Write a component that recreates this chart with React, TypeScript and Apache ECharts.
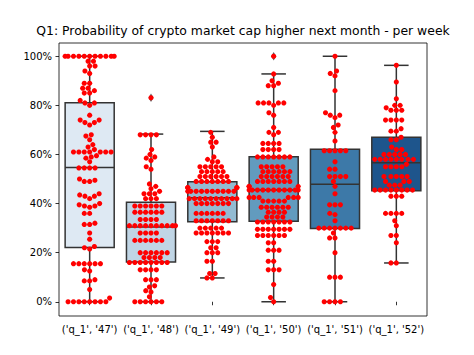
import React, { useEffect, useRef } from 'react';
import * as echarts from 'echarts';

const titleText = 'Q1: Probability of crypto market cap higher next month - per week';
const categories = ["('q_1', '47')", "('q_1', '48')", "('q_1', '49')", "('q_1', '50')", "('q_1', '51')", "('q_1', '52')"];

const week47 = [
  1.0, 1.0, 1.0, 1.0, 1.0, 1.0, 1.0, 1.0, 1.0, 1.0, 1.0,
  0.98, 0.98, 0.96, 0.96, 0.94, 0.93,
  0.89, 0.89, 0.87, 0.87, 0.86, 0.85, 0.85,
  0.82, 0.81, 0.81, 0.8,
  0.76,
  0.74, 0.74, 0.73, 0.73, 0.72,
  0.68, 0.675, 0.66,
  0.64, 0.63, 0.62,
  0.61, 0.61, 0.61, 0.61, 0.61, 0.61, 0.61,
  0.595, 0.59, 0.585,
  0.57,
  0.545, 0.545, 0.545, 0.545,
  0.5, 0.495, 0.49, 0.49,
  0.44, 0.435, 0.43, 0.43, 0.42,
  0.4, 0.395, 0.39, 0.39, 0.385,
  0.36, 0.36,
  0.32, 0.315, 0.315,
  0.28, 0.255,
  0.225, 0.22, 0.215,
  0.155, 0.155, 0.155, 0.155, 0.155, 0.155,
  0.13, 0.125,
  0.09, 0.085, 0.085,
  0.05, 0.015,
  0, 0, 0, 0, 0, 0, 0, 0,
];
const week48 = [
  0.831,
  0.68, 0.68, 0.68, 0.68,
  0.62,
  0.6, 0.59, 0.585, 0.575,
  0.55, 0.54,
  0.48, 0.47, 0.46, 0.45,
  0.44, 0.44, 0.44, 0.42, 0.42, 0.42,
  0.39, 0.39, 0.39, 0.39, 0.39, 0.39,
  0.365, 0.365, 0.365, 0.365, 0.365, 0.365,
  0.335, 0.335, 0.335, 0.335,
  0.31, 0.31, 0.31, 0.31, 0.31, 0.31, 0.31, 0.31, 0.31, 0.31,
  0.28, 0.28, 0.28, 0.28,
  0.25, 0.25, 0.25, 0.25, 0.25, 0.25,
  0.2, 0.2, 0.2, 0.2, 0.2, 0.2,
  0.18, 0.18, 0.18, 0.18,
  0.16, 0.16, 0.16, 0.16, 0.16, 0.16, 0.16, 0.16,
  0.13, 0.13, 0.13, 0.13,
  0.09, 0.09, 0.09,
  0.065, 0.06, 0.045, 0.04,
  0.02,
  0, 0, 0, 0, 0, 0,
];
const week49 = [
  0.69, 0.67, 0.65, 0.65, 0.63,
  0.59, 0.58, 0.57, 0.57,
  0.55, 0.55, 0.55, 0.55, 0.55,
  0.53, 0.53, 0.53, 0.53, 0.53,
  0.51, 0.51, 0.51, 0.51, 0.51, 0.51,
  0.49, 0.49, 0.49, 0.49, 0.49, 0.49, 0.49,
  0.465, 0.465, 0.465, 0.465, 0.465, 0.465,
  0.45, 0.45, 0.45, 0.45, 0.45, 0.45, 0.45, 0.45, 0.45, 0.45,
  0.42, 0.42, 0.42, 0.42, 0.42, 0.42, 0.42, 0.42, 0.42, 0.42,
  0.4, 0.4, 0.4, 0.4, 0.4, 0.4, 0.4,
  0.36, 0.36, 0.36, 0.36, 0.36, 0.36,
  0.33, 0.33, 0.33, 0.33, 0.33, 0.33, 0.33,
  0.3, 0.3, 0.3, 0.3, 0.3,
  0.28, 0.28, 0.28, 0.28, 0.28, 0.28, 0.28,
  0.245, 0.245, 0.245,
  0.22, 0.22,
  0.2, 0.2, 0.2,
  0.165, 0.165,
  0.115, 0.115,
  0.097, 0.097,
];
const week50 = [
  1.0,
  0.928,
  0.9, 0.89, 0.88, 0.88,
  0.81, 0.81, 0.81, 0.81, 0.81, 0.8,
  0.77, 0.76,
  0.71, 0.69, 0.69, 0.68,
  0.645, 0.645, 0.645, 0.645,
  0.62, 0.62, 0.62, 0.62,
  0.59, 0.59, 0.59, 0.59, 0.59, 0.59, 0.59,
  0.55, 0.55, 0.55, 0.55, 0.55,
  0.53, 0.53, 0.53, 0.53, 0.53, 0.53,
  0.51, 0.51, 0.51, 0.51, 0.51, 0.51,
  0.49, 0.49, 0.49, 0.49, 0.49, 0.49, 0.49,
  0.47, 0.47, 0.47,
  0.455, 0.455, 0.455, 0.455, 0.455, 0.455, 0.455, 0.455, 0.455, 0.455, 0.455,
  0.425, 0.425, 0.425, 0.425, 0.425, 0.425,
  0.41, 0.41, 0.41, 0.41, 0.41,
  0.385, 0.385, 0.385, 0.385, 0.385, 0.385,
  0.365, 0.365, 0.365, 0.365,
  0.345, 0.345, 0.345, 0.345,
  0.325, 0.325, 0.325, 0.325, 0.325, 0.325, 0.325,
  0.295, 0.295, 0.295, 0.295, 0.295, 0.295, 0.295,
  0.27, 0.27, 0.27, 0.27, 0.27, 0.27,
  0.24, 0.24,
  0.21, 0.21, 0.21,
  0.165, 0.165,
  0.13, 0.13, 0.13,
  0.07, 0.017, 0,
];
const week51 = [
  1.0,
  0.94, 0.93, 0.92,
  0.86,
  0.77, 0.76, 0.76, 0.75,
  0.72, 0.71, 0.69,
  0.655,
  0.615, 0.615, 0.615, 0.615, 0.615,
  0.57,
  0.54, 0.54,
  0.51, 0.51, 0.51, 0.51,
  0.49, 0.47,
  0.44,
  0.395, 0.395, 0.395,
  0.36, 0.355,
  0.33,
  0.3, 0.3, 0.3, 0.3, 0.3, 0.3, 0.3,
  0.28,
  0.26, 0.26,
  0.2,
  0.1, 0.1, 0.1,
  0, 0, 0, 0,
];
const week52 = [
  0.963, 0.895, 0.827,
  0.8, 0.8, 0.79,
  0.78, 0.78, 0.78,
  0.74, 0.74, 0.74, 0.74,
  0.705, 0.695, 0.695,
  0.67, 0.66, 0.66,
  0.63, 0.62, 0.62,
  0.6, 0.6, 0.6, 0.6, 0.6,
  0.58, 0.58, 0.58, 0.58, 0.58, 0.58, 0.58, 0.58, 0.56,
  0.55, 0.55, 0.55, 0.55,
  0.51, 0.51, 0.51, 0.51, 0.51,
  0.49, 0.49, 0.49,
  0.475, 0.475, 0.475,
  0.455, 0.455, 0.455, 0.455, 0.455, 0.455, 0.455, 0.455,
  0.43, 0.43, 0.43,
  0.36, 0.36, 0.36, 0.36,
  0.33, 0.31,
  0.27, 0.27,
  0.24,
  0.158, 0.158,
];
const weekPoints = [week47, week48, week49, week50, week51, week52];

const whiskerLow = [0, 0, 0.097, 0, 0, 0.158];
const quartile1 = [0.221, 0.162, 0.326, 0.328, 0.298, 0.452];
const medians = [0.547, 0.305, 0.424, 0.455, 0.479, 0.566];
const quartile3 = [0.811, 0.405, 0.489, 0.591, 0.621, 0.67];
const whiskerHigh = [1.0, 0.683, 0.694, 0.928, 1.0, 0.963];
const outlierCategory = [1, 3];
const outlierValues = [0.831, 1.0];
const yTicks = [0, 0.2, 0.4, 0.6, 0.8, 1.0];

const boxColors = ['#dee9f3', '#c0d5e5', '#93bbd2', '#629bbe', '#3d79a8', '#1e558c'];
const edgeColor = '#333333';
const FONT = 'DejaVu Sans';

function beeswarm(ys: number[], cx: number, r: number, half: number): number[] {
  const order = ys.map((_, i) => i).sort((a, b) => ys[b] - ys[a]);
  const placed: { x: number; y: number }[] = [];
  const xs: number[] = new Array(ys.length).fill(cx);
  const sep2 = 4 * r * r;
  for (const idx of order) {
    const y = ys[idx];
    const neighbors = placed.filter((p) => Math.abs(p.y - y) < 2 * r);
    const cands: number[] = [cx];
    let leftFirst = true;
    for (const n of neighbors) {
      const dy = y - n.y;
      const dx = Math.sqrt(Math.max(sep2 - dy * dy, 0)) * 1.05;
      if (leftFirst) cands.push(n.x - dx, n.x + dx);
      else cands.push(n.x + dx, n.x - dx);
      leftFirst = !leftFirst;
    }
    const sorted = cands
      .map((x, i) => ({ x, i }))
      .sort((a, b) => Math.abs(a.x - cx) - Math.abs(b.x - cx) || a.i - b.i);
    let chosen = sorted[0].x;
    for (const c of sorted) {
      if (neighbors.every((n) => (n.x - c.x) ** 2 + (n.y - y) ** 2 >= sep2 - 1e-6)) {
        chosen = c.x;
        break;
      }
    }
    placed.push({ x: chosen, y });
    xs[idx] = chosen;
  }
  return xs.map((x) => Math.max(cx - half, Math.min(cx + half, x)));
}

export default function App() {
  const ref = useRef<HTMLDivElement>(null);
  useEffect(() => {
    const chart = echarts.init(ref.current!, undefined, { renderer: 'svg' });

    const boxData = categories.map((_, i) => [i, whiskerLow[i], quartile1[i], medians[i], quartile3[i], whiskerHigh[i]]);
    const swarmData: number[][] = [];
    weekPoints.forEach((arr, c) => arr.forEach((v, j) => swarmData.push([c, v, j])));
    const outlierData = outlierCategory.map((c, i) => [c, outlierValues[i]]);

    const R = 2.57;

    chart.setOption({
      animation: false,
      backgroundColor: '#ffffff',
      textStyle: { fontFamily: FONT },
      title: {
        text: titleText,
        left: 243,
        top: 24,
        padding: 0,
        textAlign: 'center',
        textStyle: { fontFamily: FONT, fontSize: 12.4, fontWeight: 'normal', color: '#000' },
      },
      grid: {
        left: 59, right: 47, top: 43, bottom: 39,
        show: true, borderColor: '#000', borderWidth: 0.8, backgroundColor: 'transparent',
      },
      xAxis: {
        type: 'category',
        data: categories,
        boundaryGap: true,
        axisLine: { show: false },
        axisTick: { show: true, alignWithLabel: true, length: 3.5, lineStyle: { color: '#000', width: 0.8 } },
        axisLabel: { color: '#000', fontSize: 10, fontFamily: FONT, margin: 8, interval: 0 },
        splitLine: { show: false },
      },
      yAxis: {
        type: 'value',
        min: -0.058,
        max: 1.054,
        axisLine: { show: false },
        axisTick: { show: true, length: 3.5, lineStyle: { color: '#000', width: 0.8 }, customValues: yTicks },
        axisLabel: {
          color: '#000', fontSize: 10, fontFamily: FONT, margin: 7, customValues: yTicks,
          formatter: (v: number) => Math.round(v * 100) + '%',
        },
        splitLine: { show: false },
      },
      series: [
        {
          type: 'custom',
          name: 'box',
          data: boxData,
          encode: { x: 0, y: [1, 2, 3, 4, 5] },
          z: 2,
          renderItem: (params: any, api: any) => {
            const c = api.value(0);
            const x = api.coord([c, 0])[0];
            const bw = api.size([1, 0])[0] * 0.8;
            const pMin = api.coord([c, api.value(1)])[1];
            const pQ1 = api.coord([c, api.value(2)])[1];
            const pMed = api.coord([c, api.value(3)])[1];
            const pQ3 = api.coord([c, api.value(4)])[1];
            const pMax = api.coord([c, api.value(5)])[1];
            const ls = { stroke: edgeColor, lineWidth: 1.5 };
            return {
              type: 'group',
              children: [
                { type: 'line', shape: { x1: x, y1: pQ1, x2: x, y2: pMin }, style: ls },
                { type: 'line', shape: { x1: x, y1: pQ3, x2: x, y2: pMax }, style: ls },
                { type: 'line', shape: { x1: x - bw / 4, y1: pMin, x2: x + bw / 4, y2: pMin }, style: ls },
                { type: 'line', shape: { x1: x - bw / 4, y1: pMax, x2: x + bw / 4, y2: pMax }, style: ls },
                {
                  type: 'rect',
                  shape: { x: x - bw / 2, y: pQ3, width: bw, height: pQ1 - pQ3 },
                  style: { fill: boxColors[params.dataIndex], stroke: edgeColor, lineWidth: 1.5 },
                },
                { type: 'line', shape: { x1: x - bw / 2, y1: pMed, x2: x + bw / 2, y2: pMed }, style: ls },
              ],
            };
          },
        },
        {
          type: 'scatter',
          name: 'outliers',
          data: outlierData,
          z: 3,
          symbol: 'path://M0,-10L6,0L0,10L-6,0Z',
          symbolSize: [5, 8.5],
          itemStyle: { color: edgeColor },
        },
        {
          type: 'custom',
          name: 'swarm',
          data: swarmData,
          encode: { x: 0, y: 1 },
          z: 4,
          renderItem: (params: any, api: any) => {
            const ctx = params.context;
            if (!ctx.swarm) ctx.swarm = {};
            const c = api.value(0);
            const j = api.value(2);
            if (!ctx.swarm[c]) {
              const vals = weekPoints[c];
              const cx = api.coord([c, 0])[0];
              const ys = vals.map((v) => api.coord([c, v])[1]);
              const half = api.size([1, 0])[0] * 0.4;
              ctx.swarm[c] = { xs: beeswarm(ys, cx, R, half), ys };
            }
            const s = ctx.swarm[c];
            return {
              type: 'circle',
              shape: { cx: s.xs[j], cy: s.ys[j], r: R },
              style: { fill: '#ff0000' },
            };
          },
        },
      ],
    });
    return () => chart.dispose();
  }, []);
  return (
    <div
      ref={ref}
      style={{ position: 'fixed', left: 0, top: 0, width: 474, height: 355, background: '#fff' }}
    />
  );
}
